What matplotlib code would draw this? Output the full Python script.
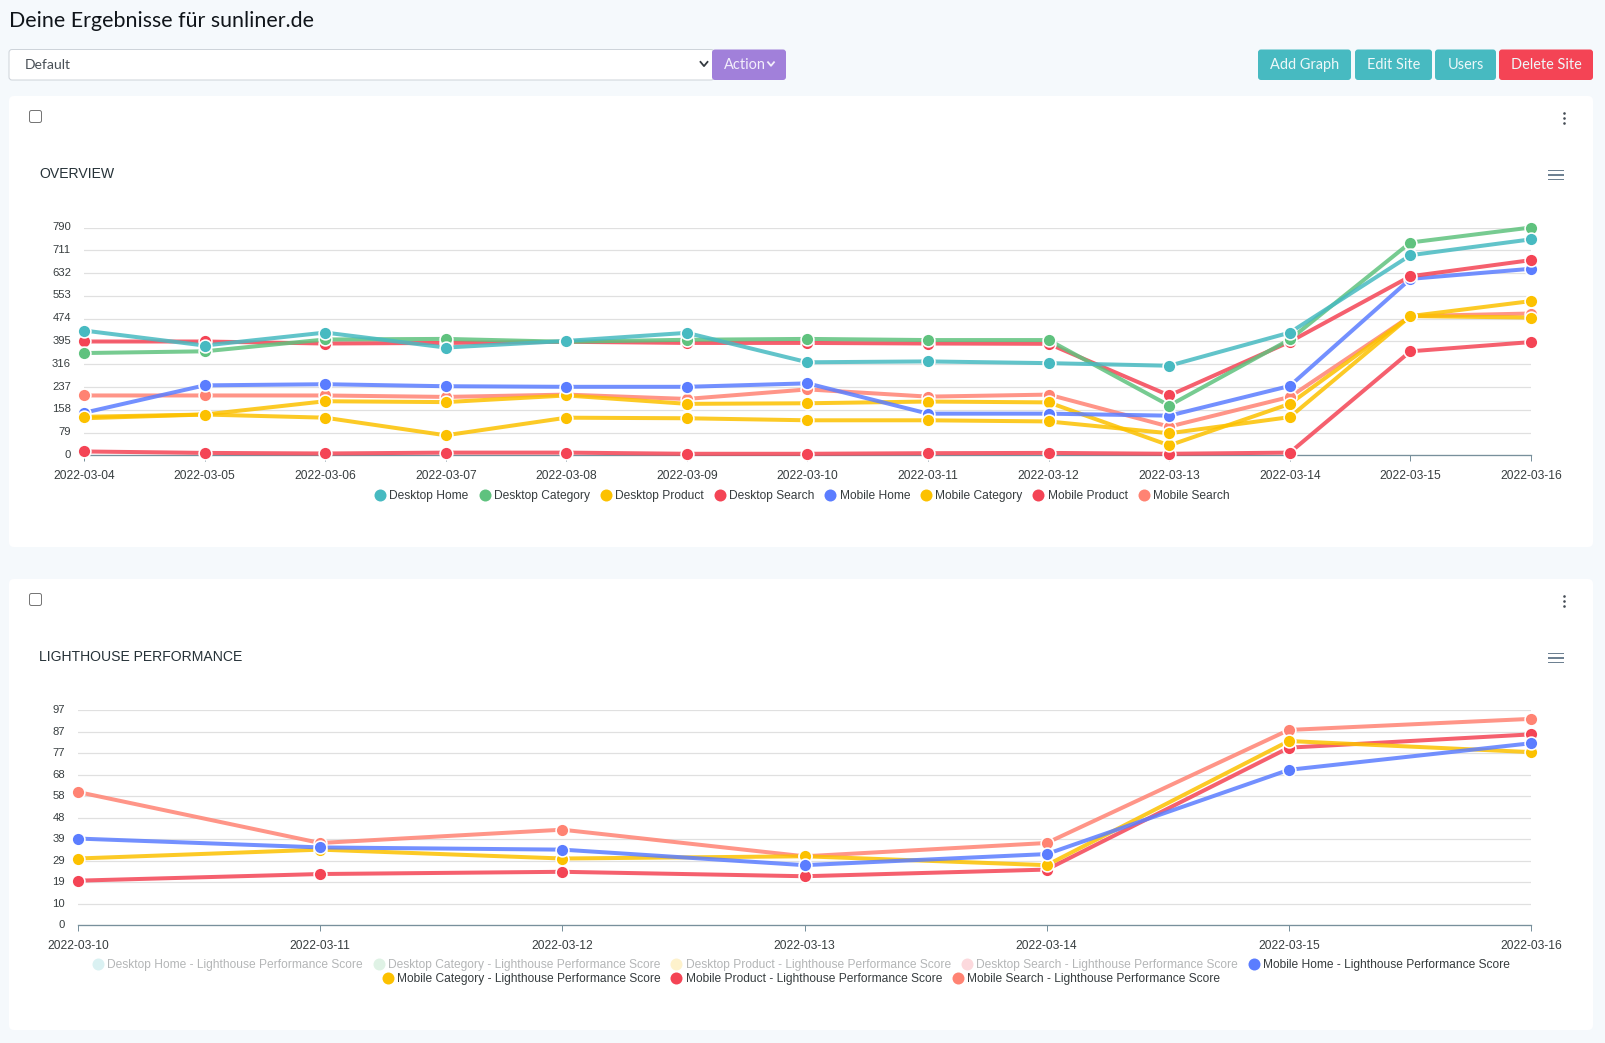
import matplotlib
matplotlib.use('Agg')
import matplotlib.pyplot as plt
import numpy as np
from matplotlib.lines import Line2D
from matplotlib.patches import FancyBboxPatch, Rectangle
from matplotlib.transforms import ScaledTranslation

W, H = 1605, 1043

# colours
TEAL = '#47BAC1'
GREEN = '#5FC27E'
YELLOW = '#FCC100'
RED = '#F44455'
BLUE = '#5B7DFF'
SALMON = '#FF8373'

dates_1 = ['2022-03-04', '2022-03-05', '2022-03-06', '2022-03-07', '2022-03-08', '2022-03-09', '2022-03-10',
           '2022-03-11', '2022-03-12', '2022-03-13', '2022-03-14', '2022-03-15', '2022-03-16']
desktop_home = [433, 381, 426, 374, 397, 425, 323, 326, 320, 311, 426, 694, 749]
desktop_category = [355, 361, 402, 404, 394, 401, 404, 400, 400, 173, 402, 738, 790]
desktop_product = [134, 142, 131, 70, 131, 129, 122, 122, 118, 77, 133, 483, 535]
desktop_search = [395, 395, 388, 390, 394, 390, 390, 388, 387, 208, 394, 621, 677]
mobile_home = [148, 243, 247, 240, 238, 238, 250, 145, 145, 138, 241, 612, 647]
mobile_category = [129, 142, 188, 185, 208, 179, 181, 187, 184, 35, 179, 483, 478]
mobile_product = [14, 9, 7, 10, 10, 6, 6, 8, 9, 6, 10, 361, 393]
mobile_search = [208, 208, 208, 203, 211, 196, 229, 204, 211, 100, 203, 483, 492]
yticks_1 = [0, 79, 158, 237, 316, 395, 474, 553, 632, 711, 790]

dates_2 = ['2022-03-10', '2022-03-11', '2022-03-12', '2022-03-13', '2022-03-14', '2022-03-15', '2022-03-16']
lh_mobile_home = [39, 35, 34, 27, 32, 70, 82]
lh_mobile_category = [30, 34, 30, 31, 27, 83, 78]
lh_mobile_product = [20, 23, 24, 22, 25, 80, 86]
lh_mobile_search = [60, 37, 43, 31, 37, 88, 93]
yticks_2 = [0, 10, 19, 29, 39, 48, 58, 68, 77, 87, 97]

names_1 = ['Desktop Home', 'Desktop Category', 'Desktop Product', 'Desktop Search',
           'Mobile Home', 'Mobile Category', 'Mobile Product', 'Mobile Search']
colors_1 = [TEAL, GREEN, YELLOW, RED, BLUE, YELLOW, RED, SALMON]
series_1 = [desktop_home, desktop_category, desktop_product, desktop_search,
            mobile_home, mobile_category, mobile_product, mobile_search]

names_2 = [n + ' - Lighthouse Performance Score' for n in names_1]
colors_2 = [BLUE, YELLOW, RED, SALMON]
series_2 = [lh_mobile_home, lh_mobile_category, lh_mobile_product, lh_mobile_search]

UI_FONT = 'Lato'
CHART_FONT = 'Liberation Sans'
TEXT_COL = '#373d3f'


def px(v):
    # pixels to points at dpi 100
    return v * 0.72


def add_chart(rect, dates, series, colors, yticks, yticklabels, label_shift):
    left, top, right, bottom = rect
    ax = fig.add_axes([left / W, 1 - bottom / H, (right - left) / W, (bottom - top) / H])
    ax.patch.set_alpha(0)
    xs = np.arange(len(dates))
    # later series are drawn first, like in the original chart
    for i, (vals, col) in enumerate(zip(series[::-1], colors[::-1])):
        ax.plot(xs, vals, '-', color=col, lw=px(4), alpha=0.85, zorder=3 + i * 0.01, clip_on=False)
        ax.plot(xs, vals, 'o', color=col, ms=px(12.8), mec='white', mew=px(1.6), zorder=4 + i * 0.01, clip_on=False)
    ax.set_xlim(0, len(dates) - 1)
    ax.set_ylim(0, yticks[-1])
    ax.set_xticks(xs)
    ax.set_xticklabels(dates, fontsize=px(12), family=CHART_FONT, color=TEXT_COL)
    ax.set_yticks(yticks)
    ax.set_yticklabels(yticklabels, fontsize=px(11.2), family=CHART_FONT, color=TEXT_COL)
    ax.tick_params(axis='x', length=px(6), width=px(1), color='#78909c', pad=px(9))
    ax.tick_params(axis='y', length=0, pad=px(13))
    shift = ScaledTranslation(0, label_shift / 100, fig.dpi_scale_trans)
    for lab in ax.get_yticklabels():
        lab.set_transform(lab.get_transform() + shift)
    ax.grid(axis='y', color='#e0e0e0', lw=px(1.2))
    ax.set_axisbelow(True)
    for s in ['top', 'left', 'right']:
        ax.spines[s].set_visible(False)
    ax.spines['bottom'].set_color('#78909c')
    ax.spines['bottom'].set_linewidth(px(1.3))
    return ax


def add_legend(ax, labels, colors, cx, cy, faded=0):
    handles = []
    for i, col in enumerate(colors):
        alpha = 0.2 if i < faded else 1
        handles.append(Line2D([], [], ls='', marker='o', color=col, ms=px(12), mew=0, alpha=alpha))
    leg = fig.legend(handles, labels, ncol=len(labels), loc='center', bbox_to_anchor=(cx / W, 1 - cy / H),
                     frameon=False, prop={'family': CHART_FONT, 'size': px(12)}, handlelength=0.95,
                     handletextpad=0.3, columnspacing=0.85, borderpad=0, borderaxespad=0)
    for i, t in enumerate(leg.get_texts()):
        t.set_color('#b4b6b7' if i < faded else TEXT_COL)
    return leg


def card(x0, y0, x1, y1, col, r=3, ec='none', lw=0, z=1):
    bg.add_patch(FancyBboxPatch((x0 + r, y0 + r), x1 - x0 - 2 * r, y1 - y0 - 2 * r,
                                boxstyle='round,pad=%s,rounding_size=%s' % (r, r),
                                fc=col, ec=ec, lw=lw, zorder=z))


def chevron(x, y, col, size=3.5):
    bg.plot([x - size, x, x + size], [y - size * 0.6, y + size * 0.6, y - size * 0.6], color=col, lw=px(1.8), zorder=5)


def button(x0, x1, label, col):
    card(x0, 49.5, x1, 80, col)
    bg.text((x0 + x1) / 2, 65, label, color='#eef8f9', fontsize=px(14.5), family=UI_FONT, ha='center', va='center', zorder=5)


def card_chrome(y_card0, y_card1, title):
    card(9, y_card0, 1593, y_card1, 'white', r=5)
    # checkbox
    card(29.5, y_card0 + 14.5, 41.5, y_card0 + 26.5, 'white', r=2, ec='#767676', lw=px(1), z=2)
    # menu dots
    for dy in (17, 22, 27):
        bg.plot([1564], [y_card0 + dy], 'o', color='#444c55', ms=px(2.6), mew=0, zorder=3)
    # chart menu
    for dy in (74.5, 79, 83.5):
        bg.add_patch(Rectangle((1548, y_card0 + dy - 0.8), 15.5, 1.7, fc='#6e8192', ec='none', zorder=3))
    bg.text(39, y_card0 + 78, title, fontsize=px(14), family=CHART_FONT, color='#263238', va='center', zorder=3)


fig = plt.figure(figsize=(W / 100, H / 100), dpi=100, facecolor='#F5F9FC')
bg = fig.add_axes([0, 0, 1, 1], zorder=-1)
bg.set_xlim(0, W)
bg.set_ylim(H, 0)
bg.axis('off')

# page header
bg.text(9, 21, 'Deine Ergebnisse für sunliner.de', fontsize=px(21.4), family=UI_FONT, color='#10151a', va='center')
card(9, 49.5, 714, 80, 'white', ec='#ced4da', lw=px(1))
bg.text(25, 65, 'Default', fontsize=px(14), family=UI_FONT, color='#495057', va='center', zorder=5)
chevron(704, 64, '#343a40')
card(712, 49.5, 786, 80, '#A180DA')
bg.text(724, 65, 'Action', fontsize=px(14.5), family=UI_FONT, color='#f3eefb', va='center', zorder=5)
chevron(771, 64, '#f3eefb', size=3)
button(1258, 1351, 'Add Graph', TEAL)
button(1355, 1432, 'Edit Site', TEAL)
button(1435, 1496, 'Users', TEAL)
button(1499, 1593, 'Delete Site', RED)

card_chrome(96, 547, 'OVERVIEW')
card_chrome(579, 1030, 'LIGHTHOUSE PERFORMANCE')

ax1 = add_chart((84, 227.5, 1531, 455.5), dates_1, series_1, colors_1, yticks_1, yticks_1, 1.5)
ax2 = add_chart((78, 710, 1531, 925), dates_2, series_2, colors_2, np.linspace(0, 97, 11), yticks_2, 0.7)

add_legend(ax1, names_1, colors_1, 802, 496)
add_legend(ax2, names_2[:5], [TEAL, GREEN, YELLOW, RED, BLUE], 801, 965, faded=4)
add_legend(ax2, names_2[5:], [YELLOW, RED, SALMON], 801, 979)

fig.savefig('out.png', dpi=100, facecolor=fig.get_facecolor())
